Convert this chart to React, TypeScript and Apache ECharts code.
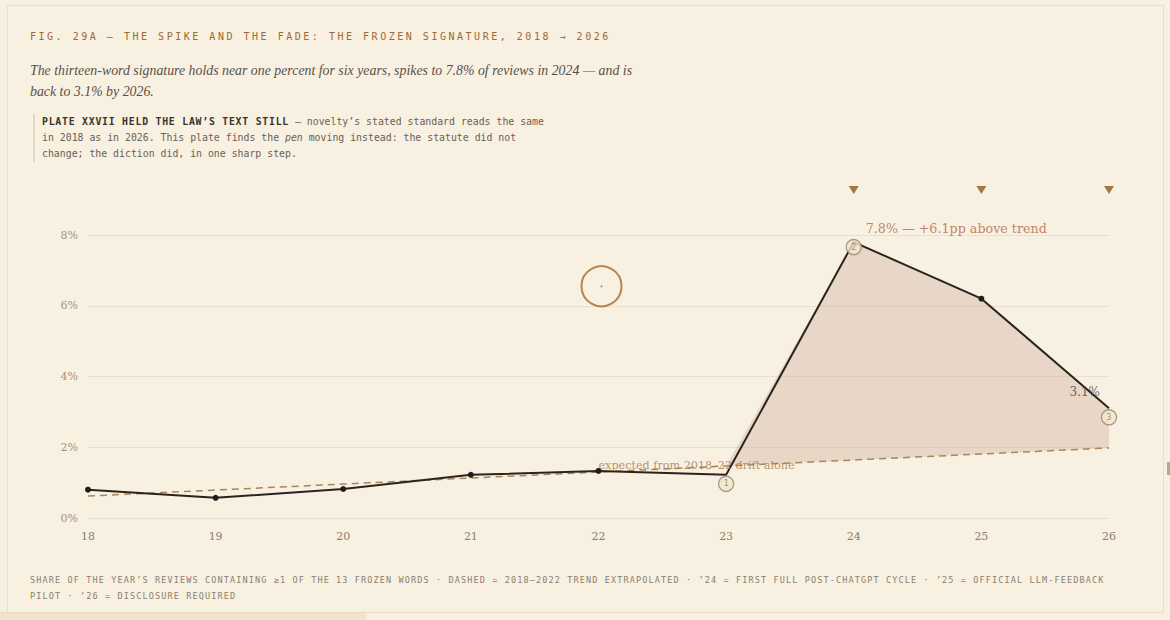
import React, { useEffect, useRef } from "react";
import * as echarts from "echarts";

const years = ["18", "19", "20", "21", "22", "23", "24", "25", "26"];
const actual = [0.8, 0.57, 0.82, 1.22, 1.33, 1.22, 7.8, 6.2, 3.1];
const trend = [0.62, 0.79, 0.96, 1.13, 1.3, 1.47, 1.64, 1.81, 1.98];
const yTicks = [0, 2, 4, 6, 8];
const numbered = [
  { idx: 5, label: "1", offset: 9 },
  { idx: 6, label: "2", offset: 5 },
  { idx: 8, label: "3", offset: 9 },
];
const flagged = [6, 7, 8];

const BG = "#f8f0e1";
const SERIF = "'DejaVu Serif', serif";
const ITALIC = "'Liberation Serif', 'Times New Roman', serif";
const MONO = "'DejaVu Sans Mono', 'Liberation Mono', monospace";

export default function App() {
  const ref = useRef<HTMLDivElement>(null);

  useEffect(() => {
    document.body.style.margin = "0";
    document.body.style.background = BG;
    const chart = echarts.init(ref.current!, null, { renderer: "svg" });
    const noSymbol = new Set([5, 6, 8]);
    const option: any = {
      animation: false,
      backgroundColor: "transparent",
      grid: { left: 88, right: 61, top: 235, bottom: 102, containLabel: false },
      xAxis: {
        type: "category",
        data: years,
        boundaryGap: false,
        axisLine: { show: false },
        axisTick: { show: false },
        axisLabel: { color: "#8c7d6a", fontFamily: SERIF, fontSize: 11, margin: 13 },
        splitLine: { show: false },
      },
      yAxis: {
        type: "value",
        min: 0,
        max: 8,
        interval: 2,
        axisLine: { show: false },
        axisTick: { show: false },
        axisLabel: {
          color: "#a09585",
          fontFamily: SERIF,
          fontSize: 11,
          margin: 10,
          formatter: (v: number) => (yTicks.includes(v) ? v + "%" : ""),
        },
        splitLine: { lineStyle: { color: "#e9e0cc", width: 1 } },
      },
      series: [
        {
          type: "custom",
          z: 1,
          silent: true,
          data: [[0]],
          renderItem: (_p: any, api: any) => {
            const i0 = 5;
            const a0 = actual[i0], a1 = actual[i0 + 1];
            const t0 = trend[i0], t1 = trend[i0 + 1];
            const t = (t0 - a0) / (a1 - a0 - (t1 - t0));
            const cx = i0 + t;
            const cy = a0 + t * (a1 - a0);
            const pts: number[][] = [api.coord([cx, cy])];
            for (let i = i0 + 1; i < actual.length; i++) pts.push(api.coord([i, actual[i]]));
            for (let i = trend.length - 1; i > i0; i--) pts.push(api.coord([i, trend[i]]));
            return {
              type: "polygon",
              shape: { points: pts },
              style: { fill: "rgba(192,147,129,0.28)" },
            };
          },
        },
        {
          type: "line",
          z: 2,
          data: trend,
          symbol: "none",
          lineStyle: { color: "#a8865e", width: 1.5, type: [7, 5] },
        },
        {
          type: "line",
          z: 3,
          data: actual.map((v, i) => (noSymbol.has(i) ? { value: v, symbolSize: 0 } : v)),
          symbol: "circle",
          symbolSize: 6,
          itemStyle: { color: "#231d18" },
          lineStyle: { color: "#2a2420", width: 2 },
        },
        {
          type: "scatter",
          z: 4,
          data: numbered.map((n) => ({
            value: [n.idx, actual[n.idx]],
            symbolOffset: [0, n.offset],
            label: { formatter: n.label },
          })),
          symbol: "circle",
          symbolSize: 15,
          itemStyle: { color: "#f3e6cc", borderColor: "#968670", borderWidth: 1.3 },
          label: {
            show: true,
            position: "inside",
            color: "#86755a",
            fontSize: 8,
            fontFamily: MONO,
          },
        },
        {
          type: "scatter",
          z: 4,
          clip: false,
          symbol: "path://M0,0 L10,0 L5,8 Z",
          symbolSize: [10, 8],
          symbolOffset: [0, -45],
          itemStyle: { color: "#8b5a20" },
          data: flagged.map((i) => [i, 8]),
        },
        {
          type: "scatter",
          z: 4,
          symbol: "circle",
          symbolSize: 40,
          symbolOffset: [3, 0],
          itemStyle: { color: "rgba(0,0,0,0)", borderColor: "#a36b33", borderWidth: 2 },
          data: [[4, 6.55]],
        },
        {
          type: "scatter",
          z: 4,
          symbol: "circle",
          symbolSize: 2,
          symbolOffset: [3, 0],
          itemStyle: { color: "#8a7a6a" },
          data: [[4, 6.55]],
        },
        {
          type: "scatter",
          z: 5,
          symbolSize: 0,
          data: [
            {
              value: [6, actual[6]],
              label: {
                show: true,
                position: "inside",
                offset: [12, -14],
                align: "left",
                verticalAlign: "middle",
                formatter: "7.8% — +6.1pp above trend",
                color: "#b5654a",
                fontSize: 12.7,
                fontFamily: SERIF,
              },
            },
            {
              value: [8, actual[8]],
              label: {
                show: true,
                position: "inside",
                offset: [-9, -16],
                align: "right",
                verticalAlign: "middle",
                formatter: "3.1%",
                color: "#4a4038",
                fontSize: 12,
                fontFamily: SERIF,
              },
            },
            {
              value: [4, trend[4]],
              label: {
                show: true,
                position: "inside",
                offset: [0, -7],
                align: "left",
                verticalAlign: "middle",
                formatter: "expected from 2018–22 drift alone",
                color: "#a8784a",
                fontSize: 11.2,
                fontFamily: SERIF,
              },
            },
          ],
        },
      ],
    };
    chart.setOption(option);
    return () => chart.dispose();
  }, []);

  return (
    <div style={{ position: "fixed", left: 0, top: 0, width: 1170, height: 620, background: BG, overflow: "hidden" }}>
      <div style={{ position: "absolute", left: 7, top: 5, width: 1155, height: 606, border: "1px solid #ebdfc8" }} />
      <div style={{ position: "absolute", left: 0, top: 612, width: 367, height: 8, background: "#f1e4c9", borderTop: "1px solid #e9dcc2" }} />
      <div style={{ position: "absolute", left: 1167, top: 462, width: 3, height: 13, background: "#b3a891" }} />
      <div ref={ref} style={{ position: "absolute", left: 0, top: 0, width: 1170, height: 620 }} />
      <div
        style={{
          position: "absolute",
          left: 30,
          top: 31,
          fontFamily: MONO,
          fontSize: 10,
          lineHeight: "12px",
          letterSpacing: 2.52,
          color: "#9b6a35",
          whiteSpace: "nowrap",
        }}
      >
        FIG. 29A — THE SPIKE AND THE FADE: THE FROZEN SIGNATURE, 2018 → 2026
      </div>
      <div
        style={{
          position: "absolute",
          left: 30,
          top: 60,
          fontFamily: ITALIC,
          fontStyle: "italic",
          fontSize: 13.85,
          lineHeight: "21px",
          color: "#5a5048",
          whiteSpace: "nowrap",
        }}
      >
        The thirteen-word signature holds near one percent for six years, spikes to 7.8% of reviews in 2024 — and is
        <br />
        back to 3.1% by 2026.
      </div>
      <div
        style={{
          position: "absolute",
          left: 33,
          top: 114,
          paddingLeft: 7,
          borderLeft: "2px solid #e2d8c5",
          fontFamily: MONO,
          fontSize: 9.85,
          lineHeight: "16px",
          color: "#6a6058",
          whiteSpace: "nowrap",
        }}
      >
        <span style={{ fontWeight: "bold", color: "#3a332d", letterSpacing: 0.75 }}>PLATE XXVII HELD THE LAW’S TEXT STILL</span> — novelty’s stated standard reads the same
        <br />
        in 2018 as in 2026. This plate finds the <i>pen</i> moving instead: the statute did not
        <br />
        change; the diction did, in one sharp step.
      </div>
      <div
        style={{
          position: "absolute",
          left: 30,
          top: 572,
          fontFamily: MONO,
          fontSize: 8.5,
          lineHeight: "16px",
          letterSpacing: 1.13,
          color: "#8a8070",
          whiteSpace: "nowrap",
        }}
      >
        SHARE OF THE YEAR’S REVIEWS CONTAINING ≥1 OF THE 13 FROZEN WORDS · DASHED = 2018–2022 TREND EXTRAPOLATED · ’24 = FIRST FULL POST-CHATGPT CYCLE · ’25 = OFFICIAL LLM-FEEDBACK
        <br />
        PILOT · ’26 = DISCLOSURE REQUIRED
      </div>
    </div>
  );
}
